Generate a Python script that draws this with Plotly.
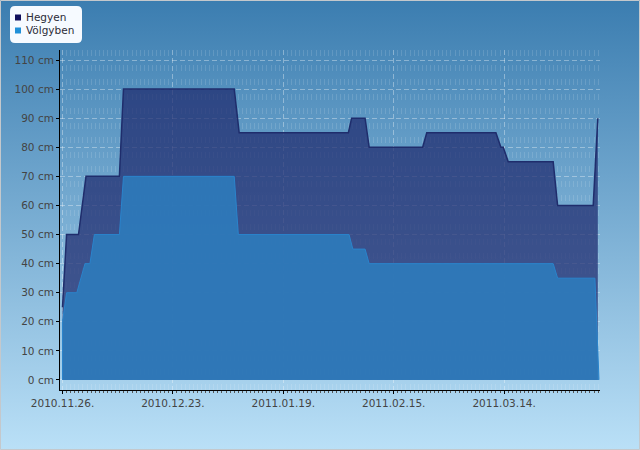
import base64
import plotly.graph_objects as go

# ---- data ----
hegyen_dates = [
    "2010-11-26 00:00", "2010-11-27 00:00", "2010-11-29 22:00", "2010-12-01 18:00",
    "2010-12-09 22:00", "2010-12-10 22:00", "2011-01-07 00:00", "2011-01-08 05:00",
    "2011-02-03 22:00", "2011-02-04 17:00", "2011-02-08 00:00", "2011-02-09 00:00",
    "2011-02-22 02:00", "2011-02-23 02:00", "2011-03-12 00:00", "2011-03-13 05:00",
    "2011-03-13 19:00", "2011-03-15 00:00", "2011-03-26 00:00", "2011-03-27 02:00",
    "2011-04-04 19:00", "2011-04-05 22:00",
]
hegyen_cm = [25, 50, 50, 70, 70, 100, 100, 85, 85, 90, 90, 80,
             80, 85, 85, 80, 80, 75, 75, 60, 60, 90]

volgyben_dates = [
    "2010-11-26 00:00", "2010-11-27 00:00", "2010-11-29 12:00", "2010-12-01 12:00",
    "2010-12-02 17:00", "2010-12-03 19:00", "2010-12-09 22:00", "2010-12-10 22:00",
    "2011-01-07 00:00", "2011-01-08 00:00", "2011-02-04 02:00", "2011-02-05 00:00",
    "2011-02-08 00:00", "2011-02-09 00:00", "2011-03-26 00:00", "2011-03-27 02:00",
    "2011-04-05 05:00", "2011-04-06 05:00",
]
volgyben_cm = [20, 30, 30, 40, 40, 50, 50, 70, 70, 50, 50, 45,
               45, 40, 40, 35, 35, 0]

series_names = ["Hegyen", "Völgyben"]
legend_colors = ["#10105c", "#2090d8"]

x_range = ["2010-11-25 09:20", "2011-04-06 10:50"]
y_range = [-3.44, 113.44]
x_tick0 = "2010-11-26"
DAY_MS = 86400000
FONT_SIZE = 10.5

# ---- geometry helpers ----
W, H = 640, 450
ML, MR, MT, MB = 60, 40, 50, 60
PW, PH = W - ML - MR, H - MT - MB


def px(x):
    return (x - ML) / PW


def py(y):
    return (H - MB - y) / PH


fig = go.Figure()

fig.add_trace(go.Scatter(
    x=hegyen_dates, y=hegyen_cm, name=series_names[0], mode="lines",
    line=dict(color="#1f2d6c", width=1.5), fill="tozeroy",
    fillcolor="rgba(30,41,110,0.72)", showlegend=False, hoverinfo="skip",
))

vx = [volgyben_dates[0]] + volgyben_dates + [volgyben_dates[-1]]
vy = [0] + volgyben_cm + [0]
fig.add_trace(go.Scatter(
    x=vx, y=vy, name=series_names[1], mode="lines",
    line=dict(color="#2a84cc", width=1), fill="toself",
    fillcolor="rgba(46,123,187,0.9)", showlegend=False, hoverinfo="skip",
))

# background gradient
svg = ('<svg xmlns="http://www.w3.org/2000/svg" width="640" height="450" '
       'preserveAspectRatio="none"><defs><linearGradient id="g" x1="0" y1="0" '
       'x2="0" y2="1"><stop offset="0" stop-color="#3b7db0"/>'
       '<stop offset="1" stop-color="#bae0f7"/></linearGradient></defs>'
       '<rect width="640" height="450" fill="url(#g)"/></svg>')
src = "data:image/svg+xml;base64," + base64.b64encode(svg.encode()).decode()

images = [dict(source=src, xref="paper", yref="paper", x=px(0), y=py(0),
               sizex=W / PW, sizey=H / PH, sizing="stretch", layer="below",
               xanchor="left", yanchor="top")]

shapes = []
# outer border
shapes.append(dict(type="rect", xref="paper", yref="paper",
                   x0=px(0.5), x1=px(639.5), y0=py(0.5), y1=py(449.5),
                   line=dict(color="#c4c8cc", width=1), fillcolor="rgba(0,0,0,0)",
                   layer="above"))
# legend box (rounded)
lx0, lx1, ly0, ly1, r = 10, 82, 6, 43, 5
path = (f"M {px(lx0 + r)},{py(ly0)} L {px(lx1 - r)},{py(ly0)} "
        f"Q {px(lx1)},{py(ly0)} {px(lx1)},{py(ly0 + r)} "
        f"L {px(lx1)},{py(ly1 - r)} Q {px(lx1)},{py(ly1)} {px(lx1 - r)},{py(ly1)} "
        f"L {px(lx0 + r)},{py(ly1)} Q {px(lx0)},{py(ly1)} {px(lx0)},{py(ly1 - r)} "
        f"L {px(lx0)},{py(ly0 + r)} Q {px(lx0)},{py(ly0)} {px(lx0 + r)},{py(ly0)} Z")
shapes.append(dict(type="path", xref="paper", yref="paper", path=path,
                   fillcolor="#f6faff", line=dict(width=0), layer="above"))

annotations = []
item_y = [17.5, 30.5]
for name, col, yc in zip(series_names, legend_colors, item_y):
    shapes.append(dict(type="rect", xref="paper", yref="paper",
                       x0=px(15), x1=px(21), y0=py(yc - 3), y1=py(yc + 3),
                       fillcolor=col, line=dict(width=0), layer="above"))
    annotations.append(dict(text=name, xref="paper", yref="paper",
                            x=px(23.5), y=py(yc - 0.8), xanchor="left", yanchor="middle",
                            showarrow=False,
                            font=dict(family="DejaVu Sans", size=FONT_SIZE, color="#2c2c38")))

fig.update_layout(
    width=W, height=H, margin=dict(l=ML, r=MR, t=MT, b=MB),
    paper_bgcolor="#7ab4d8", plot_bgcolor="rgba(0,0,0,0)",
    showlegend=False, images=images, shapes=shapes, annotations=annotations,
    font=dict(family="DejaVu Sans", size=FONT_SIZE, color="#444444"),
)

fig.update_xaxes(
    type="date", range=x_range, tickformat="%Y.%m.%d.",
    tick0=x_tick0, dtick=27 * DAY_MS,
    showline=True, linecolor="#000000", linewidth=1,
    ticks="outside", ticklen=3, tickcolor="#000000",
    showgrid=True, gridcolor="rgba(255,255,255,0.35)", griddash="5px,3px", gridwidth=1,
    zeroline=False,
    tickfont=dict(family="DejaVu Sans", size=FONT_SIZE, color="#444444"),
    minor=dict(dtick=DAY_MS, tick0=x_tick0, ticks="outside", ticklen=2,
               tickcolor="#555555", showgrid=True,
               gridcolor="rgba(255,255,255,0.13)", griddash="6px,8.5px"),
)
fig.update_yaxes(
    range=y_range, tick0=0, dtick=10, ticksuffix=" cm",
    showline=True, linecolor="#000000", linewidth=1,
    ticks="outside", ticklen=3, tickcolor="#000000",
    showgrid=True, gridcolor="rgba(255,255,255,0.35)", griddash="5px,3px", gridwidth=1,
    zeroline=False,
    tickfont=dict(family="DejaVu Sans", size=FONT_SIZE, color="#444444"),
)

fig.write_html("out.html")
